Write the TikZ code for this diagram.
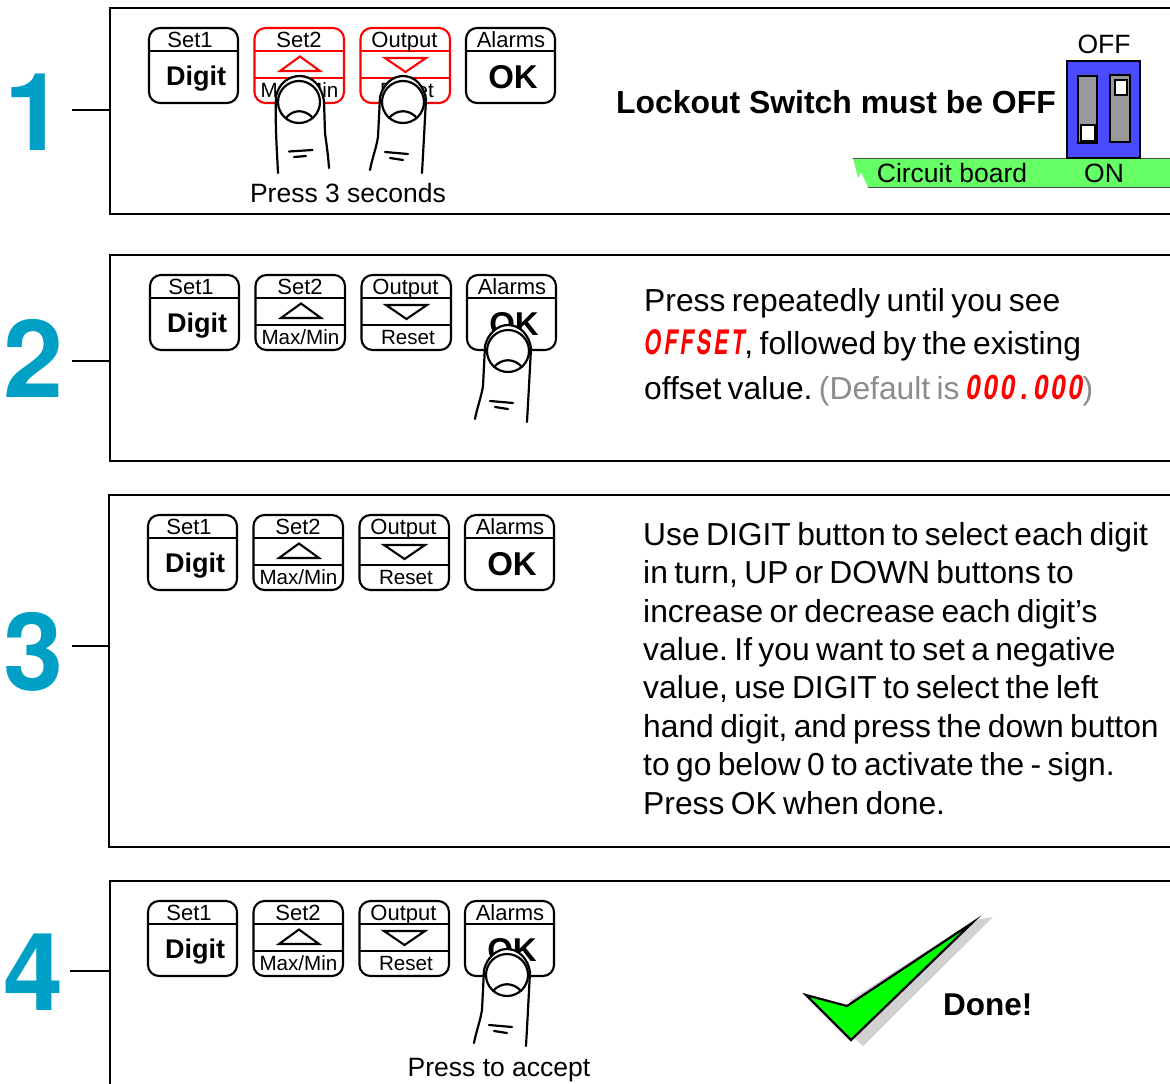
\documentclass[tikz,border=0pt]{standalone}
\usepackage{fontspec}
\setmainfont{Liberation Sans}
\newfontfamily\bodyfont[WordSpace=0.72]{Liberation Sans}
\newfontfamily\digitfont{TeX Gyre Heros}
\newfontfamily\segletters[LetterSpace=9,Scale=1.06,FakeStretch=0.64]{TeX Gyre Heros}
\newfontfamily\segdigits[LetterSpace=9,Scale=1.06,FakeStretch=0.76]{TeX Gyre Heros}
\definecolor{stepblue}{HTML}{00A0C6}
\definecolor{dipblue}{HTML}{4A4AFF}
\definecolor{boardgreen}{HTML}{66FF66}
\definecolor{checkgreen}{HTML}{00FF00}
\definecolor{dimgrey}{HTML}{8C8C8C}
\tikzset{
  x=1pt,y=-1pt,
  framebox/.style={draw=black,line width=2.4pt},
  leader/.style={draw=black,line width=2pt},
  bigdigit/.style={font=\fontsize{108}{108}\selectfont\digitfont\bfseries,text=stepblue,inner sep=0pt,anchor=base},
  btnframe/.style={line width=2.1pt,rounded corners=11pt,fill=white},
  btnline/.style={line width=2.1pt},
  toplabel/.style={font=\fontsize{22}{22}\selectfont,inner sep=0pt,anchor=base},
  bottomlabel/.style={font=\fontsize{20.6}{20.6}\selectfont,inner sep=0pt,anchor=base},
  boldlabel/.style={font=\fontsize{27}{27}\selectfont\bfseries,inner sep=0pt,anchor=base},
  oklabel/.style={font=\fontsize{33}{33}\selectfont\bfseries,inner sep=0pt,anchor=base},
  caption/.style={font=\fontsize{26.5}{26.5}\selectfont,inner sep=0pt,anchor=base},
  bodyline/.style={font=\fontsize{31.8}{32}\selectfont\bodyfont\frenchspacing,inner sep=0pt,anchor=base west},
  fingerline/.style={line width=2.2pt,line cap=round,line join=round},
}
% #1 name prefix, #2 x, #3 y (top of the button row), #4 colour of the arrow buttons
\newcommand{\buttonrow}[4]{%
  \begin{scope}[shift={(#2,#3)}]
    \draw[btnframe,draw=black] (0,0) rectangle (89,75);
    \draw[btnline] (0,23) -- (89,23);
    \node[toplabel] (#1a) at (41,19) {Set1};
    \node[boldlabel] (#1b) at (47,57) {Digit};
    \draw[btnframe,draw=#4] (105.5,0) rectangle (195,75);
    \draw[btnline,draw=#4] (105.5,23) -- (195,23) (105.5,50) -- (195,50);
    \draw[btnline,draw=#4] (131,43) -- (171,43) -- (151,28.5) -- cycle;
    \node[toplabel] (#1c) at (150,19) {Set2};
    \node[bottomlabel] (#1d) at (150.5,69.5) {Max/Min};
    \draw[btnframe,draw=#4] (211.5,0) rectangle (301,75);
    \draw[btnline,draw=#4] (211.5,23) -- (301,23) (211.5,50) -- (301,50);
    \draw[btnline,draw=#4] (236,30) -- (277,30) -- (256.5,44) -- cycle;
    \node[toplabel] (#1e) at (255.5,19) {Output};
    \node[bottomlabel] (#1f) at (258,69.5) {Reset};
    \draw[btnframe,draw=black] (317,0) rectangle (406,75);
    \draw[btnline] (317,23) -- (406,23);
    \node[toplabel] (#1g) at (362,19) {Alarms};
    \node[oklabel] (#1h) at (364,60) {OK};
  \end{scope}}
% finger leaning right at the bottom, #1 #2 = centre of the nail
\newcommand{\fingerright}[2]{%
  \begin{scope}[shift={(#1,#2)}]
    \fill[white] (-23,36) -- (-23,-5) .. controls (-20,-18) and (-10,-24) .. (0,-24) .. controls (12,-24) and (22,-16) .. (24,-2) -- (24,36) -- cycle;
    \draw[fingerline] (-21,72) .. controls (-22,50) and (-24,25) .. (-23,-5) .. controls (-20,-18) and (-10,-25) .. (1,-25) .. controls (14,-25) and (23,-14) .. (25,0) -- (26,32) .. controls (27,40) and (29,52) .. (30,67);
    \draw[fingerline] (0,1) ellipse (21 and 21);
    \draw[fingerline] (-13,17) .. controls (-6,8) and (6,8) .. (14,17);
    \draw[fingerline] (-10,50.5) -- (13.5,49) (-5,56) -- (7,55);
  \end{scope}}
% finger leaning left at the bottom
\newcommand{\fingerleft}[2]{%
  \begin{scope}[shift={(#1,#2)}]
    \fill[white] (-24,36) -- (-23,-5) .. controls (-20,-18) and (-10,-24) .. (0,-24) .. controls (12,-24) and (21,-16) .. (23,-2) -- (22,36) -- cycle;
    \draw[fingerline] (-33,69) .. controls (-31,58) and (-27,48) .. (-25,36) -- (-23,-4) .. controls (-20,-17) and (-10,-25) .. (0,-25) .. controls (12,-25) and (21,-15) .. (23,-2) -- (21,36) -- (19,72);
    \draw[fingerline] (0,1) ellipse (21 and 21);
    \draw[fingerline] (-14,17) .. controls (-6,8) and (6,8) .. (14,17);
    \draw[fingerline] (-18,51) -- (5,53) (-13,57) -- (0,59);
  \end{scope}}
\begin{document}
\begin{tikzpicture}
\useasboundingbox (0,0) rectangle (1170,1084);
\fill[white] (0,0) rectangle (1170,1084);
% frames
\draw[framebox] (1172,8) -- (110,8) -- (110,214) -- (1172,214);
\draw[framebox] (1172,255) -- (110,255) -- (110,461) -- (1172,461);
\draw[framebox] (1172,495) -- (109,495) -- (109,847) -- (1172,847);
\draw[framebox] (1172,881) -- (110,881) -- (110,1086);
% step numbers and leaders
\node[bigdigit] (n1) at (35,150) {1};
\node[bigdigit] (n2) at (34,397) {2};
\node[bigdigit] (n3) at (34,690) {3};
\node[bigdigit] (n4) at (34,1010) {4};
\coordinate (f1) at (110,110); \coordinate (s1) at (72,110);
\coordinate (f2) at (110,361); \coordinate (s2) at (72,361);
\coordinate (f3) at (109,646); \coordinate (s3) at (72,646);
\coordinate (f4) at (110,971); \coordinate (s4) at (70,971);
\draw[leader] (s1) -- (f1);
\draw[leader] (s2) -- (f2);
\draw[leader] (s3) -- (f3);
\draw[leader] (s4) -- (f4);
% step 1
\buttonrow{p}{149}{28}{red}
\fingerright{299}{101}
\fingerleft{403}{101}
\node[caption] (press3) at (348,202) {Press 3 seconds};
\node[font=\fontsize{31.9}{32}\selectfont\bfseries,inner sep=0pt,anchor=base west] (lockout) at (616,113) {Lockout Switch must be OFF};
\fill[boardgreen] (853,158) -- (1172,158) -- (1172,187) -- (868,187) -- (861,172) -- (858,178) -- cycle;
\draw[line width=1pt,draw=black!70] (853,158) -- (1172,158) (868,187) -- (1172,187);
\draw[fill=dipblue,line width=2.4pt] (1067,61) rectangle (1140,158);
\draw[fill=black!40,line width=2.4pt] (1078,76) rectangle (1097,143);
\draw[fill=black!40,line width=2.4pt] (1110,75) rectangle (1130,142);
\draw[fill=white,line width=2.4pt] (1081,125) rectangle (1095,141);
\draw[fill=white,line width=2.4pt] (1115,80) rectangle (1127,95);
\node[toplabel,font=\fontsize{26.5}{26.5}\selectfont] (off) at (1104,53) {OFF};
\node[caption] (board) at (952,182) {Circuit board};
\node[caption] (on) at (1104,182) {ON};
% step 2
\buttonrow{q}{150}{275}{black}
\fingerleft{508}{350}
\node[bodyline] (l21) at (644,311) {Press repeatedly until you see};
\node[bodyline] (l22) at (644,354) {{\segletters\bfseries\itshape\color{red}OFFSET}, followed by the existing};
\node[bodyline] (l23) at (644,399) {offset value. {\color{dimgrey}(Default is {\segdigits\bfseries\itshape\color{red}000\hspace{6pt}.\hspace{6pt}000})}};
% step 3
\buttonrow{r}{148}{515}{black}
\node[bodyline] (l31) at (643,545) {Use DIGIT button to select each digit};
\node[bodyline] (l32) at (643,583) {in turn, UP or DOWN buttons to};
\node[bodyline] (l33) at (643,622) {increase or decrease each digit’s};
\node[bodyline] (l34) at (643,660) {value. If you want to set a negative};
\node[bodyline] (l35) at (643,698) {value, use DIGIT to select the left};
\node[bodyline] (l36) at (643,737) {hand digit, and press the down button};
\node[bodyline] (l37) at (643,775) {to go below 0 to activate the - sign.};
\node[bodyline] (l38) at (643,814) {Press OK when done.};
% step 4
\buttonrow{t}{148}{901}{black}
\fingerleft{507}{974}
\node[caption] (accept) at (499,1076) {Press to accept};
\fill[black!18] (993,917) -- (863,1046) -- (851,1035) -- (850,1000) -- (975,920) -- cycle;
\draw[fill=checkgreen,line width=2.2pt,line join=miter,miter limit=20] (972,923) -- (847,1006) -- (806,995) -- (851,1040) -- cycle;
\node[font=\fontsize{31.5}{32}\selectfont\bfseries,inner sep=0pt,anchor=base west] (done) at (943,1015) {Done!};
\end{tikzpicture}
\end{document}
